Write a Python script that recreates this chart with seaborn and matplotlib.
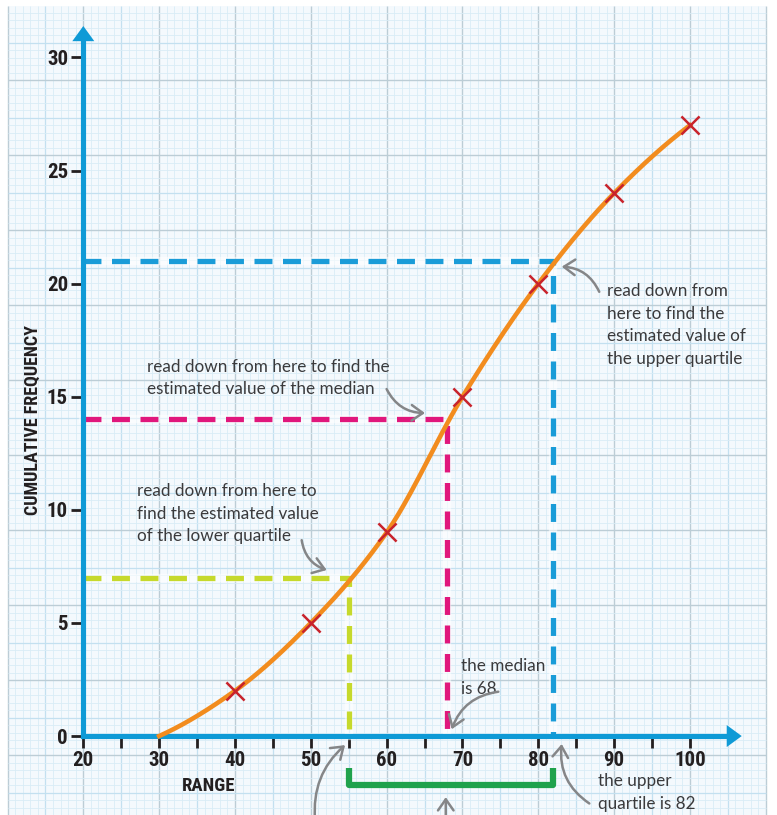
import numpy as np
import matplotlib
matplotlib.use("Agg")
import matplotlib.pyplot as plt
import seaborn as sns
from matplotlib.patches import Rectangle

# Cumulative frequency table
range_values = [30, 40, 50, 60, 70, 80, 90, 100]
cumulative_freq = [0, 2, 5, 9, 15, 20, 24, 27]

# Quartile read-offs (x = estimated value, y = position in the cumulative count)
quartile_x = [55, 68, 82]
quartile_y = [7, 14, 21]

x_ticks = [20, 30, 40, 50, 60, 70, 80, 90, 100]
x_minor_ticks = [25, 35, 45, 55, 65, 75, 85, 95]
y_ticks = [0, 5, 10, 15, 20, 25, 30]

# Colours
AXIS_BLUE = "#0f9ad6"
CURVE_ORANGE = "#f28c1e"
CROSS_RED = "#c8232c"
DASH_COLORS = ["#c6d92c", "#e0177c", "#1a9cd8"]
BRACKET_GREEN = "#1fa24c"
NOTE_GREY = "#858688"
TEXT_DARK = "#3a3a3c"
LABEL_DARK = "#231f20"

COND = ["Liberation Sans Narrow", "Roboto Condensed", "Open Sans Condensed",
        "DejaVu Sans Condensed", "Lato", "DejaVu Sans"]
NOTE_FONT = ["Lato", "DejaVu Sans"]


def pchip(xk, yk, xs):
    """Shape-preserving cubic (Fritsch-Carlson) through the plotted points."""
    xk = np.asarray(xk, float)
    yk = np.asarray(yk, float)
    h = np.diff(xk)
    delta = np.diff(yk) / h
    d = np.zeros_like(yk)
    for i in range(1, len(xk) - 1):
        if delta[i - 1] * delta[i] > 0:
            w1 = 2 * h[i] + h[i - 1]
            w2 = h[i] + 2 * h[i - 1]
            d[i] = (w1 + w2) / (w1 / delta[i - 1] + w2 / delta[i])
    d[0] = max(0.0, (3 * delta[0] - delta[1]) / 2)
    d[-1] = max(0.0, (3 * delta[-1] - delta[-2]) / 2)
    xs = np.asarray(xs, float)
    idx = np.clip(np.searchsorted(xk, xs) - 1, 0, len(xk) - 2)
    t = (xs - xk[idx]) / h[idx]
    h00 = 2 * t**3 - 3 * t**2 + 1
    h10 = t**3 - 2 * t**2 + t
    h01 = -2 * t**3 + 3 * t**2
    h11 = t**3 - t**2
    return (h00 * yk[idx] + h10 * h[idx] * d[idx]
            + h01 * yk[idx + 1] + h11 * h[idx] * d[idx + 1])


W, H = 777, 815
fig = plt.figure(figsize=(W / 100, H / 100), dpi=100)

# ---- graph-paper background (pixel space) ----
bg = fig.add_axes([0, 0, 1, 1], zorder=0)
bg.set_xlim(0, W)
bg.set_ylim(H, 0)
bg.axis("off")
left, top, right = 8, 6, 766
bg.add_patch(Rectangle((left, top), right - left, H - top, color="#f4f9fd", lw=0))


def paper_style(k):
    if k % 10 == 0:
        return "#bccdd6", 1.0
    if k % 5 == 0:
        return "#c3e0f0", 0.9
    return "#d9ecf6", 0.6


k, px = 0, 7.5
while px <= right:
    c, lw = paper_style(k)
    bg.plot([px, px], [top, H], color=c, lw=lw, solid_capstyle="butt")
    px += 7.583
    k += 1
k, py = 0, 5.0
while py <= H:
    if py >= top:
        c, lw = paper_style(k)
        bg.plot([left, right], [py, py], color=c, lw=lw, solid_capstyle="butt")
    py += 7.5
    k += 1

# ---- chart axes (data space over the whole figure) ----
ax = fig.add_axes([0, 0, 1, 1], zorder=1)
ax.patch.set_alpha(0)
ax.set_xlim(9.015, 111.48)
ax.set_ylim(-3.49, 32.54)

# dashed read-off guides
for qx, qy, col in zip(quartile_x, quartile_y, DASH_COLORS):
    ax.plot([20, qx, qx], [qy, qy, 0], color="white", lw=6.0, alpha=0.55,
            solid_joinstyle="miter", zorder=2)
    ax.plot([20, qx, qx], [qy, qy, 0], color=col, lw=3.8,
            dashes=(3.4, 2.0), solid_joinstyle="miter", zorder=2.2)

# smooth cumulative frequency curve
xs = np.linspace(range_values[0], range_values[-1], 400)
ys = pchip(range_values, cumulative_freq, xs)
sns.lineplot(x=xs, y=ys, color=CURVE_ORANGE, linewidth=3.3, ax=ax,
             sort=False, estimator=None, zorder=4)

# plotted points
sns.scatterplot(x=range_values[1:], y=cumulative_freq[1:], marker="x", s=170,
                color=CROSS_RED, linewidth=1.8, ax=ax, zorder=5, legend=False)

# axes as blue arrows
for s in ["top", "right"]:
    ax.spines[s].set_visible(False)
ax.spines["left"].set_position(("data", 20))
ax.spines["bottom"].set_position(("data", 0))
ax.spines["left"].set_bounds(0, 30.72)
ax.spines["bottom"].set_bounds(20, 104.85)
for s in ["left", "bottom"]:
    ax.spines[s].set_color(AXIS_BLUE)
    ax.spines[s].set_linewidth(3.7)
    ax.spines[s].set_capstyle("projecting")
ax.fill([18.55, 21.45, 20], [30.72, 30.72, 31.39], color=AXIS_BLUE, lw=0,
        clip_on=False, zorder=3)
ax.fill([104.85, 104.85, 106.83], [0.486, -0.486, 0], color=AXIS_BLUE, lw=0,
        clip_on=False, zorder=3)

ax.set_xticks(x_ticks)
ax.set_xticks(x_minor_ticks, minor=True)
ax.set_yticks(y_ticks)
ax.tick_params(axis="x", which="both", direction="out", length=8.6, width=2.0,
               color=LABEL_DARK, pad=2.5, labelsize=15, labelcolor=LABEL_DARK)
ax.tick_params(axis="y", which="both", direction="out", length=9.0, width=2.0,
               color=LABEL_DARK, pad=2, labelsize=15, labelcolor=LABEL_DARK)
for lbl in ax.get_xticklabels() + ax.get_yticklabels():
    lbl.set_fontweight("bold")
    lbl.set_fontfamily(COND)

ax.set_xlabel("RANGE", fontsize=13.5, fontweight="bold", family=COND, color=LABEL_DARK)
ax.set_ylabel("CUMULATIVE FREQUENCY", fontsize=13, fontweight="bold", family=COND,
              color=LABEL_DARK)
ax.xaxis.set_label_coords(36.48, -2.19, transform=ax.transData)
ax.yaxis.set_label_coords(13.37, 13.97, transform=ax.transData)
ax.xaxis.label.set_va("center")
ax.yaxis.label.set_va("center")

# interval bracket between the quartiles
ax.plot([quartile_x[0], quartile_x[0], quartile_x[2], quartile_x[2]],
        [-1.41, -2.17, -2.17, -1.41], color=BRACKET_GREEN, lw=4.5,
        solid_joinstyle="round", solid_capstyle="butt", clip_on=False, zorder=3)

# notes
note_kw = dict(ha="left", va="top", fontsize=12.3, color=TEXT_DARK,
               family=NOTE_FONT, linespacing=1.5, zorder=6)
ax.text(27.08, 11.18, "read down from here to\nfind the estimated value\nof the lower quartile", **note_kw)
ax.text(28.36, 16.69, "read down from here to find the\nestimated value of the median", **note_kw)
ax.text(89.1, 20.01, "read down from\nhere to find the\nestimated value of\nthe upper quartile", **note_kw)
ax.text(69.81, 3.43, "the median\nis 68", **note_kw)
ax.text(87.9, -1.65, "the upper\nquartile is 82", **note_kw)


def pointer(tail, tip, rad):
    ax.annotate("", xy=tip, xytext=tail, annotation_clip=False,
                arrowprops=dict(arrowstyle="->,head_length=0.4,head_width=0.28",
                                connectionstyle=f"arc3,rad={rad}", color=NOTE_GREY,
                                lw=1.8, shrinkA=0, shrinkB=0, mutation_scale=20),
                zorder=6)


pointer((48.8, 8.66), (52.1, 7.34), 0.3)      # lower quartile reading point
pointer((60.0, 15.34), (65.06, 14.28), 0.3)   # median reading point
pointer((88.04, 19.64), (83.09, 20.75), 0.3)  # upper quartile reading point
pointer((74.73, 1.96), (68.58, 0.30), 0.3)    # median on the axis
pointer((86.73, -2.98), (83.09, -0.35), -0.3) # upper quartile on the axis
pointer((50.56, -3.7), (54.52, -0.40), -0.25) # lower quartile on the axis
pointer((67.8, -3.7), (67.8, -2.7), 0.0)      # interquartile range

fig.savefig("out.png", dpi=100)
